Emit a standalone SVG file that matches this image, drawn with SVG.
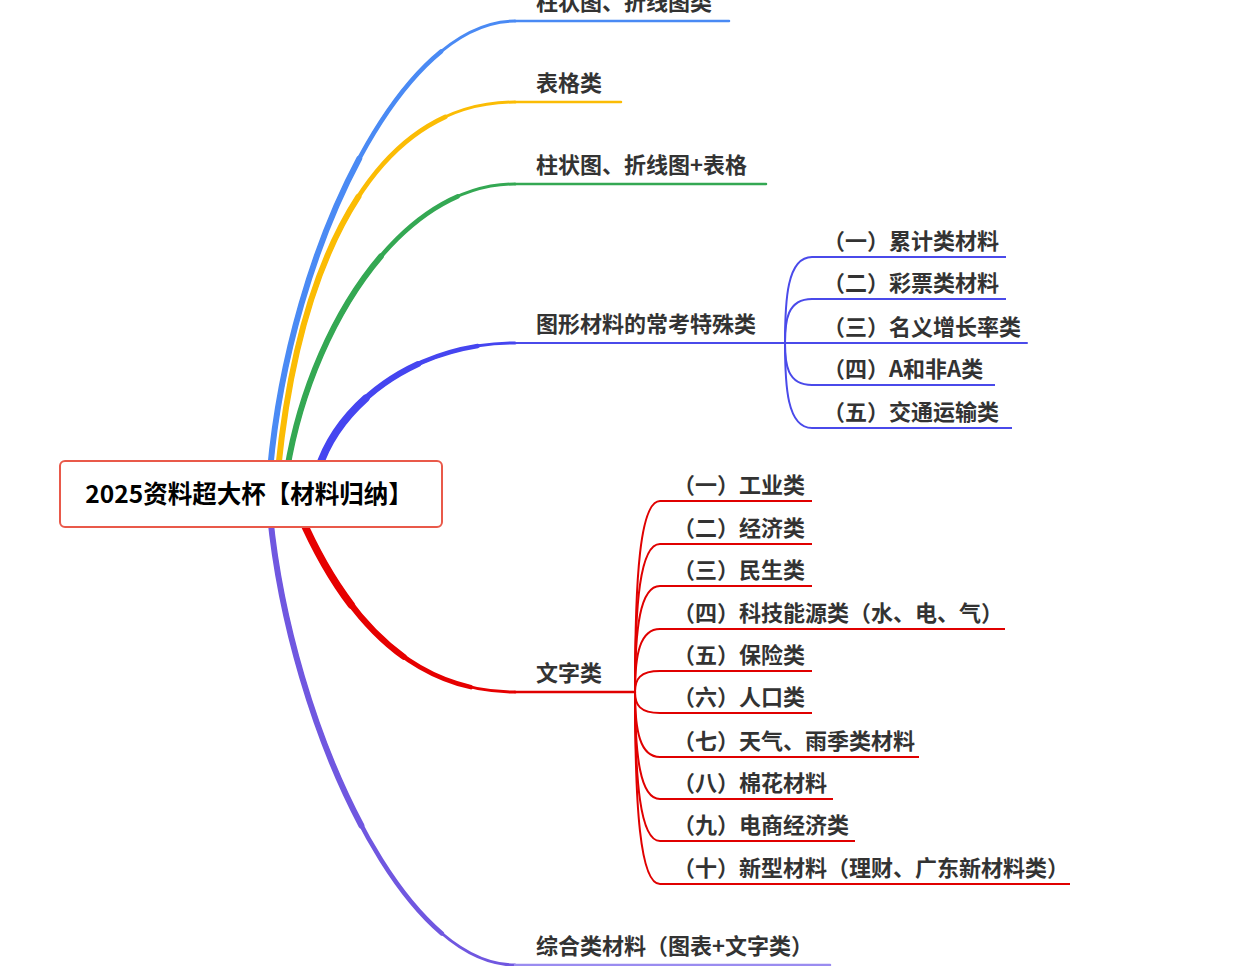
<svg xmlns="http://www.w3.org/2000/svg" width="1244" height="966" viewBox="0 0 1244 966">
<defs>
<path id="cb" pathLength="100" d="M270,470 C290,250 400,21 515,21"/>
<path id="cy" pathLength="100" d="M278,470 C300,250 380,102 515,102"/>
<path id="cg" pathLength="100" d="M287,470 C310,330 400,184 515,184"/>
<path id="cv" pathLength="100" d="M318,470 C340,400 420,343 515,343"/>
<path id="cr" pathLength="100" d="M300,515 C350,630 420,692 515,692"/>
<path id="cp" pathLength="100" d="M270,515 C290,720 400,965 515,965"/>
</defs>
<style>
.t{font-family:"Noto Sans CJK SC","Noto Sans",sans-serif;font-weight:bold;font-size:22px;fill:#333333}
.root{font-family:"Noto Sans CJK SC","Noto Sans",sans-serif;font-weight:bold;font-size:24.5px;fill:#000000}
.ln{fill:none;stroke-linecap:round}
.w1{stroke-width:3}
.w2{stroke-width:4.5;stroke-dasharray:85 200}
.w3{stroke-width:6;stroke-dasharray:60 200}
.w4{stroke-width:7.5;stroke-dasharray:35 200}
.vs{fill:none;stroke:#4a4aea;stroke-width:2}
.rs{fill:none;stroke:#e00000;stroke-width:2}
</style>
<rect x="0" y="0" width="1244" height="966" fill="#ffffff"/>
<g id="connectors">
  <g stroke="#4a8af4" class="ln">
    <use href="#cb" class="w1"/><use href="#cb" class="w2"/><use href="#cb" class="w3"/>
    <line x1="515" y1="21" x2="729" y2="21" stroke-width="2.5"/>
  </g>
  <g stroke="#fbbc04" class="ln">
    <use href="#cy" class="w1"/><use href="#cy" class="w2"/><use href="#cy" class="w3"/>
    <line x1="515" y1="102" x2="621" y2="102" stroke-width="2.5"/>
  </g>
  <g stroke="#34a853" class="ln">
    <use href="#cg" class="w1"/><use href="#cg" class="w2"/><use href="#cg" class="w3"/>
    <line x1="515" y1="184" x2="766" y2="184" stroke-width="2.5"/>
  </g>
  <g stroke="#4545f0" class="ln">
    <use href="#cv" class="w1"/><use href="#cv" class="w2"/><use href="#cv" class="w3"/><use href="#cv" class="w4"/>
    <line x1="515" y1="343" x2="1027" y2="343" stroke="#4a4aea" stroke-width="2"/>
  </g>
  <g stroke="#e60000" class="ln">
    <use href="#cr" class="w1"/><use href="#cr" class="w2"/><use href="#cr" class="w3"/><use href="#cr" class="w4"/>
    <line x1="515" y1="692" x2="635" y2="692" stroke="#e00000" stroke-width="2.5"/>
  </g>
  <g stroke="#7057e0" class="ln">
    <use href="#cp" class="w1"/><use href="#cp" class="w2"/><use href="#cp" class="w3"/>
    <line x1="515" y1="965" x2="830" y2="965" stroke="#9a8cf0" stroke-width="2.5"/>
  </g>

  <path class="vs" d="M785,343 C785,300 787,257 812,257 L1006,257"/>
  <path class="vs" d="M785,343 C785,321 787,299 812,299 L1006,299"/>
  <path class="vs" d="M785,343 C785,364 787,385 812,385 L995,385"/>
  <path class="vs" d="M785,343 C785,386 787,428 812,428 L1012,428"/>

  <path class="rs" d="M635,692 C635,577 640,501 660,501 L812,501"/>
  <path class="rs" d="M635,692 C635,603 640,544 660,544 L812,544"/>
  <path class="rs" d="M635,692 C635,628 640,586 660,586 L812,586"/>
  <path class="rs" d="M635,692 C635,654 640,629 660,629 L1005,629"/>
  <path class="rs" d="M635,692 C635,679 640,671 660,671 L812,671"/>
  <path class="rs" d="M635,692 C635,705 640,713 660,713 L812,713"/>
  <path class="rs" d="M635,692 C635,731 640,757 660,757 L919,757"/>
  <path class="rs" d="M635,692 C635,756 640,799 660,799 L833,799"/>
  <path class="rs" d="M635,692 C635,781 640,841 660,841 L855,841"/>
  <path class="rs" d="M635,692 C635,807 640,884 660,884 L1070,884"/>
</g>

<g id="root">
  <rect x="60" y="461" width="382" height="66" rx="5" fill="#ffffff" stroke="#e9594a" stroke-width="2"/>
  <text class="root" x="249" y="503" text-anchor="middle">2025资料超大杯【材料归纳】</text>
</g>

<g id="n1"><text class="t" x="536" y="10">柱状图、折线图类</text></g>
<g id="n2"><text class="t" x="536" y="91">表格类</text></g>
<g id="n3"><text class="t" x="536" y="173">柱状图、折线图+表格</text></g>
<g id="n4"><text class="t" x="536" y="332">图形材料的常考特殊类</text></g>
<g id="n4-1"><text class="t" x="823" y="249">（一）累计类材料</text></g>
<g id="n4-2"><text class="t" x="823" y="291">（二）彩票类材料</text></g>
<g id="n4-3"><text class="t" x="823" y="335">（三）名义增长率类</text></g>
<g id="n4-4"><text class="t" x="823" y="377">（四）A和非A类</text></g>
<g id="n4-5"><text class="t" x="823" y="420">（五）交通运输类</text></g>
<g id="n5"><text class="t" x="536" y="681">文字类</text></g>
<g id="n5-1"><text class="t" x="673" y="493">（一）工业类</text></g>
<g id="n5-2"><text class="t" x="673" y="536">（二）经济类</text></g>
<g id="n5-3"><text class="t" x="673" y="578">（三）民生类</text></g>
<g id="n5-4"><text class="t" x="673" y="621">（四）科技能源类（水、电、气）</text></g>
<g id="n5-5"><text class="t" x="673" y="663">（五）保险类</text></g>
<g id="n5-6"><text class="t" x="673" y="705">（六）人口类</text></g>
<g id="n5-7"><text class="t" x="673" y="749">（七）天气、雨季类材料</text></g>
<g id="n5-8"><text class="t" x="673" y="791">（八）棉花材料</text></g>
<g id="n5-9"><text class="t" x="673" y="833">（九）电商经济类</text></g>
<g id="n5-10"><text class="t" x="673" y="876">（十）新型材料（理财、广东新材料类）</text></g>
<g id="n6"><text class="t" x="536" y="954">综合类材料（图表+文字类）</text></g>
</svg>
